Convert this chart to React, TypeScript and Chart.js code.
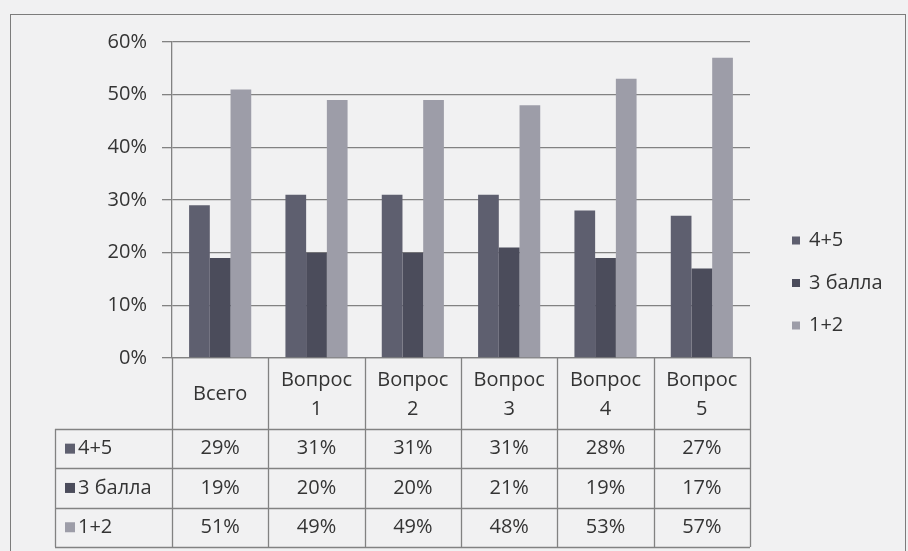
import React, { useEffect, useRef } from "react";
import { Chart, registerables } from "chart.js";

Chart.register(...registerables);

// ---- data ----
const categories: string[][] = [
  ["Всего"],
  ["Вопрос", "1"],
  ["Вопрос", "2"],
  ["Вопрос", "3"],
  ["Вопрос", "4"],
  ["Вопрос", "5"],
];
const seriesNames = ["4+5", "3 балла", "1+2"];
const values45 = [29, 31, 31, 31, 28, 27];
const values3 = [19, 20, 20, 21, 19, 17];
const values12 = [51, 49, 49, 48, 53, 57];
const yMax = 60;
const yStep = 10;

// ---- style ----
const BG = "#f1f1f2";
const LINE = "#828282";
const TEXT = "#343434";
const COLORS = ["#5e5f6f", "#4b4c5b", "#9d9da8"];
const FONT_FAMILY = "'Open Sans', 'DejaVu Sans', sans-serif";
const FONT_SIZE = 20;

const tablePlugin = {
  id: "dataTable",
  afterDraw(chart: any) {
    const { ctx, chartArea: a, scales } = chart;
    const xs = scales.x;
    const labels = chart.data.labels as string[][];
    const datasets = chart.data.datasets as any[];
    const n = labels.length;
    const colW = (a.right - a.left) / n;
    const top = a.bottom;
    const headerBottom = top + 71;
    const rowH = 39.3;
    const tableLeft = 55;
    const tableBottom = headerBottom + datasets.length * rowH;

    ctx.save();
    ctx.strokeStyle = LINE;
    ctx.lineWidth = 1.3;
    ctx.beginPath();
    for (let i = 0; i <= n; i++) {
      const xp = Math.round(a.left + i * colW) + 0.5;
      ctx.moveTo(xp, top);
      ctx.lineTo(xp, tableBottom);
    }
    ctx.moveTo(tableLeft + 0.5, headerBottom);
    ctx.lineTo(tableLeft + 0.5, tableBottom);
    for (let r = 0; r <= datasets.length; r++) {
      const yp = Math.round(headerBottom + r * rowH) + 0.5;
      ctx.moveTo(tableLeft, yp);
      ctx.lineTo(a.right, yp);
    }
    ctx.stroke();

    ctx.font = `${FONT_SIZE}px ${FONT_FAMILY}`;
    ctx.fillStyle = TEXT;
    ctx.textAlign = "center";
    ctx.textBaseline = "middle";
    const headCy = (top + headerBottom) / 2;
    labels.forEach((lab, i) => {
      const cx = xs.getPixelForValue(i);
      const lines = Array.isArray(lab) ? lab : [lab];
      const lh = 29;
      lines.forEach((t, j) => {
        ctx.fillText(t, cx, headCy + 1 + (j - (lines.length - 1) / 2) * lh);
      });
    });

    datasets.forEach((ds, r) => {
      const cy = headerBottom + r * rowH + rowH / 2;
      ctx.fillStyle = ds.backgroundColor;
      ctx.fillRect(65, cy - 5, 10, 10);
      ctx.fillStyle = TEXT;
      ctx.textAlign = "left";
      ctx.fillText(ds.label, 78, cy);
      ctx.textAlign = "center";
      (ds.data as number[]).forEach((v, i) => {
        ctx.fillText(`${v}%`, xs.getPixelForValue(i), cy);
      });
    });

    // legend on the right
    const legX = 792;
    const legCy = 283;
    const legStep = 42.5;
    datasets.forEach((ds, r) => {
      const cy = legCy + (r - (datasets.length - 1) / 2) * legStep;
      ctx.fillStyle = ds.backgroundColor;
      ctx.fillRect(legX, cy - 4, 8, 8);
      ctx.fillStyle = TEXT;
      ctx.textAlign = "left";
      ctx.fillText(ds.label, legX + 17, cy);
    });
    ctx.restore();
  },
};

export default function App() {
  const ref = useRef<HTMLCanvasElement | null>(null);

  useEffect(() => {
    if (!ref.current) return;
    const chart = new Chart(ref.current, {
      type: "bar",
      data: {
        labels: categories,
        datasets: [
          { label: seriesNames[0], data: values45, backgroundColor: COLORS[0] },
          { label: seriesNames[1], data: values3, backgroundColor: COLORS[1] },
          { label: seriesNames[2], data: values12, backgroundColor: COLORS[2] },
        ],
      },
      options: {
        animation: false,
        responsive: true,
        maintainAspectRatio: false,
        layout: { padding: { left: 0, top: 42, right: 158, bottom: 0 } },
        datasets: { bar: { categoryPercentage: 0.645, barPercentage: 1, borderWidth: 0 } },
        plugins: { legend: { display: false }, tooltip: { enabled: false } },
        scales: {
          x: {
            grid: { display: false },
            border: { display: true, color: LINE, width: 1.3 },
            ticks: { display: false },
            afterFit: (s: any) => {
              s.height = 551 - 358;
            },
          },
          y: {
            min: 0,
            max: yMax,
            ticks: {
              stepSize: yStep,
              padding: 15,
              color: TEXT,
              font: { family: FONT_FAMILY, size: FONT_SIZE },
              callback: (v: any) => `${v}%`,
            },
            grid: { color: LINE, lineWidth: 1.3, tickLength: 10, drawTicks: true },
            border: { display: true, color: LINE, width: 1.3 },
            afterFit: (s: any) => {
              s.width = 172;
            },
          },
        },
      },
      plugins: [tablePlugin],
    });
    return () => chart.destroy();
  }, []);

  return (
    <div
      style={{
        position: "fixed",
        left: 0,
        top: 0,
        width: 908,
        height: 551,
        background: BG,
        overflow: "hidden",
      }}
    >
      <div
        style={{
          position: "absolute",
          left: 10,
          top: 14,
          width: 896,
          height: 600,
          border: "1.5px solid #7c7c7c",
          boxSizing: "border-box",
        }}
      />
      <div style={{ position: "absolute", left: 0, top: 0, width: 908, height: 551 }}>
        <canvas ref={ref} />
      </div>
    </div>
  );
}
